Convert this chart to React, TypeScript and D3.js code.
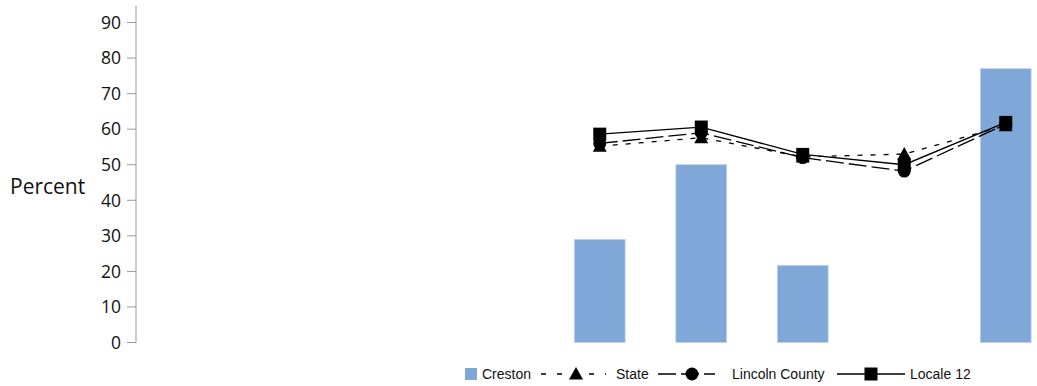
import React from "react";
import * as d3 from "d3";

const categories = ["c1", "c2", "c3", "c4", "c5", "c6", "c7", "c8", "c9"];
const creston: (number | null)[] = [null, null, null, null, 29, 50, 21.7, null, 77];
const state: (number | null)[] = [null, null, null, null, 55.2, 57.6, 52.2, 53, 61];
const lincoln: (number | null)[] = [null, null, null, null, 56, 59, 52, 48.2, 61.4];
const locale: (number | null)[] = [null, null, null, null, 58.6, 60.6, 52.9, 50, 61.9];
const yTicks = [0, 10, 20, 30, 40, 50, 60, 70, 80, 90];

const W = 1037;
const H = 386;

function Marker({ kind, x, y }: { kind: string; x: number; y: number }) {
  if (kind === "triangle") {
    const s = 7;
    return <path d={`M${x},${y - s} L${x + s},${y + s * 0.8} L${x - s},${y + s * 0.8} Z`} fill="#000" />;
  }
  if (kind === "circle") return <circle cx={x} cy={y} r={6.5} fill="#000" />;
  return <rect x={x - 6.5} y={y - 6.5} width={13} height={13} fill="#000" />;
}

export default function App() {
  const x = d3.scaleBand<string>().domain(categories).range([143, 1056.5]).paddingInner(0.5).paddingOuter(0.25);
  const y = d3.scaleLinear().domain([0, 90]).range([342.5, 22.5]);
  const cx = (i: number) => (x(categories[i]) as number) + x.bandwidth() / 2;

  const series = [
    { name: "State", data: state, dash: "5,8", marker: "triangle" },
    { name: "Lincoln County", data: lincoln, dash: "18,5", marker: "circle" },
    { name: "Locale 12", data: locale, dash: "", marker: "square" },
  ];

  const lineGen = d3
    .line<[number, number | null]>()
    .defined((d) => d[1] != null)
    .x((d) => cx(d[0]))
    .y((d) => y(d[1] as number));

  const axisFont = "'Open Sans', 'Noto Sans', sans-serif";
  const legendFont = "'Liberation Sans', Arial, sans-serif";

  return (
    <svg width={W} height={H} style={{ position: "absolute", left: 0, top: 0 }}>
      <rect width={W} height={H} fill="#fff" />
      {/* bars */}
      {creston.map((v, i) =>
        v == null ? null : (
          <rect
            key={i}
            x={x(categories[i])}
            y={y(v)}
            width={x.bandwidth()}
            height={y(0) - y(v)}
            fill="#7FA7D8"
            stroke="#B8D0EE"
            strokeWidth={0.8}
          />
        )
      )}
      {/* y axis */}
      <line x1={136} x2={136} y1={6} y2={342.5} stroke="#999" strokeWidth={1} />
      {yTicks.map((t) => (
        <g key={t}>
          <line x1={127} x2={136} y1={y(t)} y2={y(t)} stroke="#999" strokeWidth={1} />
          <text x={121} y={y(t)} dy="0.36em" textAnchor="end" fontSize={17.5} fontFamily={axisFont} fill="#111">
            {t}
          </text>
        </g>
      ))}
      <text x={10} y={186} dy="0.36em" fontSize={21} fontFamily={axisFont} fill="#111">
        Percent
      </text>
      {/* lines */}
      {series.map((s) => (
        <g key={s.name}>
          <path
            d={lineGen(s.data.map((v, i) => [i, v] as [number, number | null])) || ""}
            fill="none"
            stroke="#000"
            strokeWidth={1.3}
            strokeDasharray={s.dash || undefined}
          />
          {s.data.map((v, i) => (v == null ? null : <Marker key={i} kind={s.marker} x={cx(i)} y={y(v)} />))}
        </g>
      ))}
      {/* legend */}
      <g fontFamily={legendFont} fontSize={14} fill="#111">
        <rect x={465} y={368} width={12} height={12} fill="#7FA7D8" />
        <text x={482} y={374} dy="0.36em">Creston</text>

        <line x1={541} x2={606} y1={374} y2={374} stroke="#000" strokeWidth={1.3} strokeDasharray="5,11" />
        <Marker kind="triangle" x={576} y={374} />
        <text x={616} y={374} dy="0.36em">State</text>

        <line x1={658} x2={715} y1={374} y2={374} stroke="#000" strokeWidth={1.3} strokeDasharray="18,5" />
        <Marker kind="circle" x={692} y={374} />
        <text x={732} y={374} dy="0.36em">Lincoln County</text>

        <line x1={837} x2={905} y1={374} y2={374} stroke="#000" strokeWidth={1.3} />
        <Marker kind="square" x={871} y={374} />
        <text x={910} y={374} dy="0.36em">Locale 12</text>
      </g>
    </svg>
  );
}
